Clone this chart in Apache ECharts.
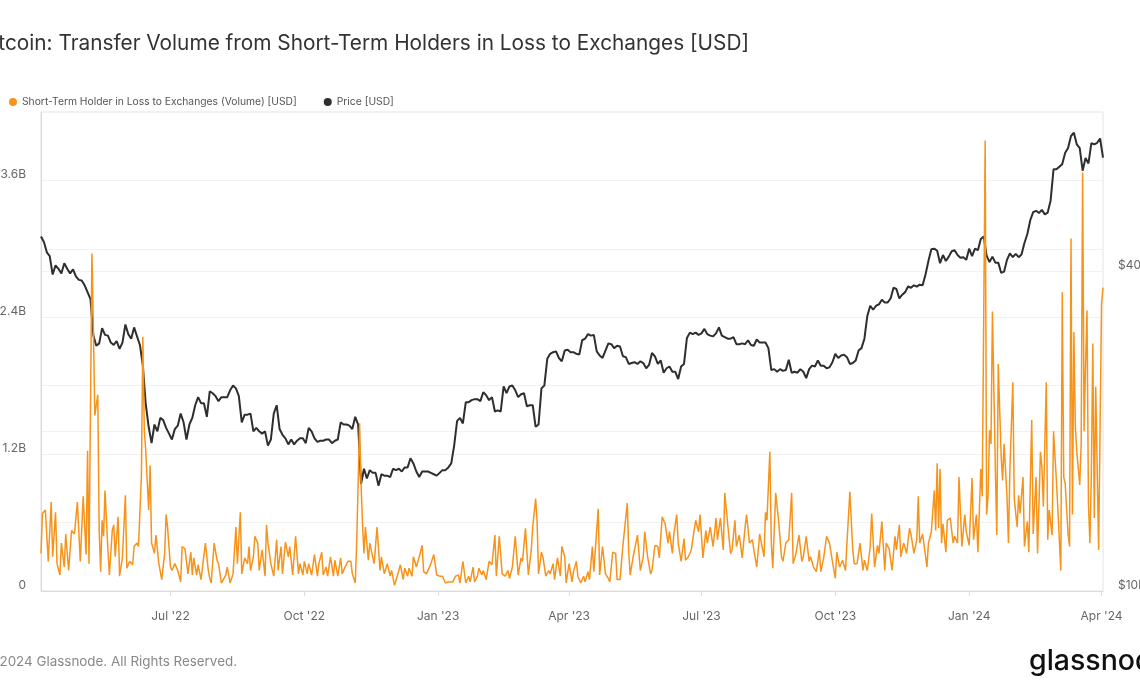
<!DOCTYPE html>
<html>
<head>
<meta charset="utf-8">
<script src="https://cdn.jsdelivr.net/npm/echarts@6/dist/echarts.min.js"></script>
<style>
html,body{margin:0;padding:0;background:#fff;}
#chart{width:1140px;height:694px;}
</style>
</head>
<body>
<div id="chart"></div>
<script>
// ---------------- DATA ----------------
const chartTitle = 'Bitcoin: Transfer Volume from Short-Term Holders in Loss to Exchanges [USD]';
const seriesNames = ['Short-Term Holder in Loss to Exchanges (Volume) [USD]', 'Price [USD]'];
const footerText = '\u00A9 2024 Glassnode. All Rights Reserved.';
const brandText = 'glassnode';
const startDate = '2022-04-03';
const endDate = '2024-04-02';
const xTickDates = ['2022-07-01','2022-10-01','2023-01-01','2023-04-01','2023-07-01','2023-10-01','2024-01-01','2024-04-01'];
const volumeLabelTicksB = [0, 1.2, 2.4, 3.6];
const priceLabelTicksK = [10, 40];
const priceGridTicksK = [10, 20, 40, 80];

// Price (thousand USD), one value every 2 days from startDate
const priceStepDays = 2;
const priceK = [
46.6,45.5,43.5,42.8,39.5,41.1,40.5,39.7,41.5,40.5,
39.7,40.4,39.2,38.6,38.5,37.7,36.6,35.5,30.3,29.0,
29.3,31.3,30.4,30.3,29.4,29.1,29.6,28.6,29.4,31.8,
30.5,29.9,31.4,30.2,29.1,26.6,22.5,20.4,19.0,20.6,
20.0,21.2,21.0,20.3,19.8,19.3,20.2,20.5,21.6,20.8,
19.3,20.6,21.2,22.4,23.2,22.6,22.6,21.3,23.8,23.6,
23.3,22.8,23.2,23.2,23.2,23.9,24.4,24.1,23.3,20.8,
21.5,21.5,21.6,20.0,20.3,20.0,19.8,20.0,18.8,19.3,
21.6,22.4,20.2,19.7,19.4,18.9,19.3,18.9,19.2,19.4,
19.4,19.0,20.3,20.0,19.4,19.1,19.2,19.2,19.3,19.3,
19.0,19.2,19.3,20.8,20.6,20.6,20.5,20.2,21.3,20.6,
15.9,17.0,16.3,16.9,16.7,16.7,15.8,16.6,16.5,16.5,
16.4,17.0,16.9,17.0,16.8,17.1,17.1,17.8,17.4,16.8,
16.4,16.8,16.8,16.8,16.7,16.6,16.5,16.7,16.9,16.9,
17.1,17.4,18.8,20.9,21.2,20.7,22.7,22.7,22.9,23.0,
23.0,22.8,23.7,23.4,22.9,23.2,21.8,21.9,21.8,24.3,
23.6,24.3,24.4,23.9,23.2,23.5,23.6,22.3,22.4,22.4,
20.4,20.6,24.1,24.4,27.4,28.0,28.2,28.3,27.5,27.1,
28.4,28.5,28.2,28.2,28.0,27.9,29.7,29.9,30.5,30.3,
30.4,28.3,27.8,27.5,28.4,29.3,29.2,28.7,29.0,28.9,
27.7,27.6,26.8,26.9,27.0,26.8,27.1,26.9,26.3,26.7,
28.1,27.7,26.8,27.2,25.8,26.3,26.5,25.9,25.9,25.1,
26.5,26.8,30.0,30.7,30.5,30.7,30.4,30.6,31.2,30.5,
30.3,30.2,30.6,31.4,30.3,30.1,29.9,29.9,30.1,29.2,
29.2,29.3,29.2,29.7,29.1,29.0,29.8,29.4,29.4,29.4,
28.7,26.1,26.2,25.9,26.2,26.0,26.1,27.3,25.8,25.9,
25.8,26.2,25.9,25.2,26.2,26.6,26.5,27.2,26.6,26.6,
26.3,26.4,27.0,28.0,27.5,27.8,27.9,27.6,26.8,26.9,
27.2,28.4,28.7,29.9,33.0,34.5,33.9,34.5,34.7,35.4,
35.0,35.0,35.6,37.3,37.1,35.6,36.2,36.6,37.5,37.3,
37.7,37.5,37.8,37.7,39.5,41.9,44.1,44.2,43.8,41.5,
43.0,41.9,42.7,43.7,43.9,43.0,42.5,42.6,42.1,44.2,
42.8,44.2,43.9,46.1,46.6,42.9,41.7,42.7,41.6,41.6,
39.8,40.0,42.1,43.3,42.6,43.2,42.6,43.1,45.3,47.1,
50.0,51.8,52.1,51.6,52.3,51.3,51.7,54.5,62.4,62.4,
63.1,63.8,67.0,68.4,72.1,73.1,69.5,68.4,62.0,65.5,
64.0,69.9,69.5,70.0,71.3,65.6
];

// Volume (billion USD) as [days after startDate, value]
const volumeByDay = [
[0,0.33],[1,0.68],[3,0.71],[5,0.26],[7,0.78],[8,0.30],[10,0.69],[11,0.24],[13,0.14],[14,0.42],
[16,0.21],[17,0.50],[19,0.18],[21,0.53],[23,0.50],[25,0.78],[27,0.26],[29,0.83],[31,0.32],[32,1.23],
[33,0.24],[35,2.96],[36,2.31],[37,1.54],[39,1.72],[40,0.53],[41,0.17],[42,0.62],[43,0.48],[44,0.88],
[46,0.36],[47,0.14],[49,0.53],[50,0.58],[51,0.30],[53,0.65],[54,0.13],[56,0.30],[58,0.84],[59,0.20],
[61,0.26],[63,0.23],[64,0.39],[66,0.42],[67,0.39],[69,1.00],[70,2.23],[71,1.41],[72,1.23],[74,0.71],
[75,1.10],[76,0.42],[78,0.33],[79,0.49],[81,0.24],[83,0.10],[85,0.33],[86,0.67],[87,0.56],[89,0.21],
[90,0.18],[92,0.24],[94,0.18],[96,0.08],[97,0.39],[99,0.37],[101,0.15],[103,0.34],[104,0.14],[105,0.29],
[107,0.14],[108,0.23],[110,0.10],[113,0.42],[115,0.18],[116,0.11],[117,0.07],[119,0.42],[121,0.27],[122,0.24],
[124,0.07],[127,0.14],[128,0.21],[130,0.07],[132,0.15],[134,0.56],[135,0.24],[137,0.69],[138,0.15],[140,0.29],
[142,0.24],[143,0.39],[144,0.18],[146,0.30],[147,0.48],[149,0.42],[150,0.18],[152,0.36],[154,0.13],[155,0.58],
[156,0.42],[158,0.24],[160,0.13],[162,0.45],[163,0.18],[165,0.39],[166,0.15],[168,0.43],[170,0.30],[171,0.39],
[173,0.14],[175,0.48],[177,0.15],[178,0.24],[180,0.14],[181,0.26],[183,0.15],[184,0.24],[186,0.14],[188,0.32],
[190,0.13],[191,0.24],[193,0.34],[194,0.14],[196,0.21],[197,0.13],[199,0.30],[201,0.13],[202,0.27],[204,0.13],
[206,0.29],[207,0.15],[209,0.21],[211,0.26],[213,0.26],[214,0.15],[216,0.07],[217,0.42],[219,1.47],[220,0.95],
[221,0.59],[222,0.33],[223,0.56],[225,0.27],[226,0.42],[228,0.30],[229,0.24],[231,0.56],[233,0.18],[234,0.30],
[236,0.15],[238,0.24],[240,0.13],[241,0.18],[243,0.05],[246,0.18],[247,0.23],[249,0.10],[250,0.20],[252,0.13],
[253,0.20],[255,0.13],[256,0.30],[258,0.21],[260,0.30],[262,0.40],[263,0.17],[265,0.15],[268,0.24],[270,0.32],
[272,0.14],[274,0.13],[276,0.13],[278,0.07],[280,0.08],[283,0.08],[285,0.13],[287,0.14],[288,0.07],[290,0.26],
[292,0.07],[294,0.13],[295,0.08],[297,0.21],[298,0.08],[300,0.13],[301,0.20],[303,0.14],[304,0.18],[306,0.10],
[308,0.26],[310,0.23],[312,0.49],[313,0.13],[315,0.48],[317,0.15],[319,0.13],[321,0.18],[322,0.11],[324,0.21],
[326,0.48],[328,0.14],[330,0.29],[331,0.26],[333,0.55],[335,0.14],[337,0.36],[338,0.56],[340,0.81],[341,0.61],
[342,0.15],[344,0.34],[345,0.30],[347,0.13],[349,0.18],[350,0.15],[352,0.24],[353,0.10],[355,0.29],[357,0.13],
[358,0.39],[360,0.30],[361,0.07],[363,0.24],[365,0.08],[366,0.17],[368,0.26],[369,0.13],[371,0.07],[373,0.13],
[374,0.08],[376,0.17],[377,0.10],[379,0.39],[380,0.17],[383,0.72],[384,0.14],[386,0.39],[388,0.15],[390,0.11],
[391,0.08],[393,0.34],[395,0.33],[396,0.10],[398,0.10],[400,0.40],[401,0.39],[403,0.77],[404,0.34],[405,0.14],
[407,0.30],[408,0.29],[410,0.49],[412,0.18],[414,0.30],[415,0.52],[417,0.30],[419,0.15],[420,0.18],[422,0.40],
[424,0.39],[425,0.29],[427,0.65],[429,0.59],[431,0.42],[432,0.52],[434,0.33],[435,0.50],[437,0.67],[438,0.42],
[440,0.26],[442,0.46],[443,0.27],[445,0.30],[447,0.36],[448,0.45],[450,0.62],[452,0.52],[453,0.67],[455,0.29],
[457,0.53],[458,0.42],[460,0.56],[462,0.39],[464,0.64],[465,0.45],[467,0.64],[469,0.36],[470,0.86],[472,0.59],
[474,0.33],[475,0.36],[477,0.62],[478,0.39],[480,0.49],[482,0.29],[484,0.56],[485,0.67],[487,0.42],[489,0.45],
[490,0.36],[492,0.21],[494,0.50],[497,0.30],[498,0.69],[499,0.62],[501,1.22],[502,0.42],[503,0.20],[505,0.86],
[507,0.62],[509,0.30],[510,0.26],[512,0.42],[514,0.45],[516,0.86],[517,0.24],[519,0.33],[521,0.49],[523,0.26],
[524,0.30],[526,0.48],[528,0.26],[529,0.30],[531,0.21],[533,0.17],[535,0.36],[536,0.17],[538,0.29],[540,0.48],
[542,0.42],[544,0.26],[546,0.11],[547,0.34],[549,0.21],[551,0.27],[553,0.18],[554,0.42],[556,0.87],[558,0.36],
[559,0.24],[561,0.24],[563,0.42],[565,0.18],[566,0.27],[568,0.18],[570,0.39],[571,0.68],[573,0.21],[575,0.40],
[576,0.33],[578,0.61],[580,0.18],[581,0.42],[583,0.37],[585,0.18],[587,0.48],[588,0.36],[590,0.58],[591,0.30],
[593,0.42],[595,0.33],[597,0.55],[598,0.50],[600,0.33],[602,0.45],[603,0.83],[604,0.42],[606,0.50],[609,0.21],
[610,0.42],[612,0.52],[614,0.88],[615,0.53],[616,1.12],[617,0.55],[618,1.07],[619,0.42],[620,0.59],[622,0.34],
[623,0.62],[625,0.64],[627,0.42],[628,0.48],[630,0.42],[631,1.00],[633,0.39],[635,0.67],[636,0.52],[638,0.40],
[640,0.99],[641,0.45],[643,0.67],[644,0.34],[646,1.07],[647,0.83],[649,3.95],[650,0.67],[651,0.83],[652,1.41],
[653,1.29],[654,2.45],[656,1.07],[657,0.49],[658,1.99],[660,1.18],[661,0.97],[662,1.29],[664,0.83],[665,0.42],
[666,1.06],[668,1.83],[669,0.81],[671,0.56],[672,0.84],[673,0.68],[675,1.00],[676,0.39],[678,0.61],[679,0.34],
[681,1.50],[682,0.50],[684,1.00],[685,0.33],[687,1.22],[688,1.09],[689,0.74],[691,1.83],[692,0.45],[693,0.71],
[695,0.49],[696,1.40],[698,0.96],[699,0.71],[701,0.18],[702,2.62],[703,1.00],[704,0.94],[706,0.50],[707,0.39],
[708,3.09],[709,0.67],[710,2.27],[711,1.44],[712,1.22],[714,0.93],[715,1.29],[716,3.67],[717,1.40],[718,1.98],
[719,2.46],[720,0.77],[721,0.42],[722,1.03],[723,2.17],[724,0.64],[725,1.79],[727,0.36],[728,0.37],[729,2.52],
[730,2.66]
];

// ---------------- CHART ----------------
const DAY = 86400000;
const t0 = Date.parse(startDate);
const t1 = Date.parse(endDate);
const MONTHS = ['Jan','Feb','Mar','Apr','May','Jun','Jul','Aug','Sep','Oct','Nov','Dec'];
const xTicks = xTickDates.map(d => Date.parse(d));

const priceData = priceK.map((p, i) => [t0 + i * priceStepDays * DAY, p * 1000]);
const volumeData = volumeByDay.map(([d, v]) => [t0 + d * DAY, v * 1e9]);

const ORANGE = '#f7931a';
const DARK = '#2e2e2e';
const GRID = '#f1f1f1';
const LABEL = '#666';
const FONT = 'Inter, "Noto Sans", sans-serif';

const chart = echarts.init(document.getElementById('chart'), null, {renderer: 'canvas'});
chart.setOption({
  animation: false,
  backgroundColor: '#ffffff',
  textStyle: {fontFamily: FONT},
  legend: {
    left: 4, top: 92,
    icon: 'circle', itemWidth: 8, itemHeight: 8, itemGap: 27,
    textStyle: {fontSize: 10.3, color: '#555', fontFamily: FONT},
    data: seriesNames
  },
  grid: {left: 41, right: 37, top: 112, bottom: 103, show: true, borderColor: '#e3e3e3', borderWidth: 1,
         containLabel: false, outerBoundsMode: 'none'},
  xAxis: {
    type: 'value', min: t0, max: t1, scale: true,
    axisLine: {show: true, lineStyle: {color: '#dcdcdc'}},
    axisTick: {show: true, customValues: xTicks, length: 5, lineStyle: {color: '#dcdcdc'}},
    axisLabel: {
      customValues: xTicks, color: LABEL, fontSize: 12, margin: 19, fontFamily: FONT,
      formatter: v => { const d = new Date(v); return MONTHS[d.getUTCMonth()] + " '" + String(d.getUTCFullYear()).slice(2); }
    },
    splitLine: {show: false}
  },
  yAxis: [
    {
      type: 'value', position: 'left', min: 0, max: 4.2e9, interval: 0.6e9,
      axisLine: {show: true, lineStyle: {color: '#fbd3a0'}},
      axisTick: {show: false},
      axisLabel: {
        customValues: volumeLabelTicksB.map(v => v * 1e9),
        color: LABEL, fontSize: 12, margin: 15, verticalAlign: 'bottom', fontFamily: FONT,
        formatter: v => v === 0 ? '0' : (Math.round(v / 1e8) / 10) + 'B'
      },
      splitLine: {show: true, lineStyle: {color: GRID, width: 1}}
    },
    {
      type: 'log', logBase: 2, position: 'right', min: 10000, max: 80000,
      axisLine: {show: false},
      axisTick: {show: false, customValues: priceGridTicksK.map(v => v * 1000)},
      axisLabel: {
        customValues: priceLabelTicksK.map(v => v * 1000),
        color: LABEL, fontSize: 12, margin: 15, verticalAlign: 'bottom', fontFamily: FONT,
        formatter: v => '$' + Math.round(v / 1000) + 'k'
      },
      splitLine: {show: true, lineStyle: {color: GRID, width: 1}}
    }
  ],
  series: [
    {
      name: seriesNames[1], type: 'line', yAxisIndex: 1, data: priceData,
      showSymbol: false, symbol: 'circle', z: 2,
      lineStyle: {color: DARK, width: 2}, itemStyle: {color: DARK}
    },
    {
      name: seriesNames[0], type: 'line', yAxisIndex: 0, data: volumeData,
      showSymbol: false, symbol: 'circle', z: 3,
      lineStyle: {color: ORANGE, width: 1.5}, itemStyle: {color: ORANGE}
    }
  ],
  graphic: [
    {type: 'text', x: 749, y: 44, style: {text: chartTitle, fill: '#333', font: '400 20.8px ' + FONT, align: 'right', verticalAlign: 'middle'}},
    {type: 'text', x: 237, y: 662, style: {text: footerText, fill: '#888', font: '400 13.4px ' + FONT, align: 'right', verticalAlign: 'middle'}},
    {type: 'text', x: 1029, y: 661, style: {text: brandText, fill: '#111', font: '500 28.5px ' + FONT, align: 'left', verticalAlign: 'middle'}}
  ]
});
</script>
</body>
</html>
